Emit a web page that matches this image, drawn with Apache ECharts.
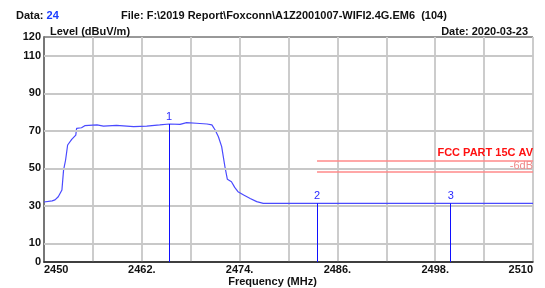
<!DOCTYPE html>
<html>
<head>
<meta charset="utf-8">
<script src="https://cdn.jsdelivr.net/npm/echarts@6/dist/echarts.min.js"></script>
<style>
html,body{margin:0;padding:0;background:#fff;}
#c{width:545px;height:288px;}
</style>
</head>
<body>
<div id="c"></div>
<script>
// Trace (frequency MHz / level dBuV/m)
var freqs = [2450, 2451.0, 2451.35, 2451.75, 2452.2, 2452.4, 2452.65, 2452.9, 2453.4, 2453.9, 2454.0, 2454.6, 2455.0, 2456.5, 2457.3, 2458.9, 2461.0, 2462.6, 2464.2, 2465.4, 2466.7, 2467.5, 2468.7, 2470.0, 2470.6, 2471.0, 2471.4, 2471.8, 2472.2, 2472.5, 2473.0, 2473.4, 2473.8, 2474.5, 2475.3, 2476.1, 2476.9, 2480, 2490, 2500, 2510];
var levels = [32.0, 32.6, 33.1, 34.8, 38.4, 49.0, 54.4, 62.4, 65.4, 67.7, 71.3, 71.6, 72.7, 73.1, 72.5, 72.9, 72.2, 72.5, 73.1, 73.6, 73.4, 74.3, 74.0, 73.6, 73.1, 70.4, 66.8, 61.5, 50.8, 44.1, 42.8, 39.8, 37.5, 35.7, 33.9, 32.2, 31.3, 31.3, 31.3, 31.3, 31.3];

// Markers
var markerNames = ['1', '2', '3'];
var markerFreqs = [2465.35, 2483.5, 2499.9];
var markerLevels = [73.6, 31.3, 31.3];

// Limit lines
var limitNames = ['FCC PART 15C AV', '-6dB'];
var limitValues = [54, 48];
var limitStart = 2483.5;

// Axes ticks
var xTickValues = [2450, 2462, 2474, 2486, 2498, 2510];
var xTickLabels = ['2450', '2462.', '2474.', '2486.', '2498.', '2510'];
var yTickValues = [0, 10, 30, 50, 70, 90, 110, 120];
var yGridValues = [10, 30, 50, 70, 90, 110];

var FONT = 'Arial, "Liberation Sans", sans-serif';
var traceData = freqs.map(function (f, i) { return [f, levels[i]]; });

var markerLines = markerFreqs.map(function (f, i) {
  return [{ coord: [f, 0], symbol: 'none', name: markerNames[i] },
          { coord: [f, markerLevels[i]], symbol: 'none' }];
});

var gridLines = yGridValues.map(function (v) {
  return [{ coord: [2450, v] }, { coord: [2510, v] }];
});

var chart = echarts.init(document.getElementById('c'), null, { renderer: 'canvas' });
chart.setOption({
  animation: false,
  backgroundColor: '#fff',
  textStyle: { fontFamily: FONT },
  title: [
    { text: 'Data: {b|24}', left: 11, top: 5,
      textStyle: { fontSize: 11, fontWeight: 'bold', color: '#111', fontFamily: FONT,
        rich: { b: { fontSize: 11, fontWeight: 'bold', color: '#1a3cff', fontFamily: FONT } } } },
    { text: 'File: F:\\2019 Report\\Foxconn\\A1Z2001007-WIFI2.4G.EM6  (104)', left: 116, top: 5,
      textStyle: { fontSize: 11, fontWeight: 'bold', color: '#111', fontFamily: FONT } },
    { text: 'Level (dBuV/m)', left: 45, top: 21,
      textStyle: { fontSize: 11, fontWeight: 'bold', color: '#111', fontFamily: FONT } },
    { text: 'Date: 2020-03-23', right: 12, top: 21,
      textStyle: { fontSize: 11, fontWeight: 'bold', color: '#111', fontFamily: FONT } },
    { text: 'Frequency (MHz)', left: 'center', top: 276, padding: 0,
      textStyle: { fontSize: 11, fontWeight: 'bold', color: '#111', fontFamily: FONT } }
  ],
  grid: { left: 44, right: 12, top: 37, bottom: 26, show: true, borderColor: '#333', borderWidth: 1, containLabel: false },
  xAxis: {
    type: 'value', min: 2450, max: 2510, interval: 6,
    axisLine: { show: true, lineStyle: { color: '#222', width: 1.5 } },
    axisTick: { show: false },
    splitLine: { show: true, lineStyle: { color: '#cccccc', width: 2 } },
    axisLabel: {
      customValues: xTickValues,
      formatter: function (v) { var i = xTickValues.indexOf(v); return i >= 0 ? xTickLabels[i] : ''; },
      alignMinLabel: 'left', alignMaxLabel: 'right',
      fontSize: 11, fontWeight: 'bold', color: '#111', margin: 2, fontFamily: FONT
    }
  },
  yAxis: {
    type: 'value', min: 0, max: 120, interval: 10,
    axisLine: { show: true, lineStyle: { color: '#777', width: 2 } },
    axisTick: { show: false },
    splitLine: { show: false },
    axisLabel: {
      customValues: yTickValues,
      fontSize: 11, fontWeight: 'bold', color: '#111', margin: 3, fontFamily: FONT
    }
  },
  series: [
    {
      type: 'line', data: [], silent: true,
      markLine: {
        silent: true, symbol: 'none', animation: false,
        lineStyle: { color: '#c8c8c8', width: 2, type: 'solid' },
        label: { show: false },
        data: gridLines
      }
    },
    {
      type: 'line', data: [], silent: true,
      markLine: {
        silent: true, symbol: 'none', animation: false,
        lineStyle: { color: '#ff8a8a', width: 1.5, type: 'solid' },
        label: {
          show: true, position: 'insideEndTop', distance: [0, 2],
          formatter: function (p) { return p.name; },
          fontFamily: FONT
        },
        data: [
          [{ coord: [limitStart, limitValues[0]], name: limitNames[0],
             label: { color: '#ff1010', fontSize: 11, fontWeight: 'bold' } },
           { coord: [2510, limitValues[0]] }],
          [{ coord: [limitStart, limitValues[1]], name: limitNames[1],
             label: { color: '#f08a8a', fontSize: 11, fontWeight: 'normal', distance: [0, 1] } },
           { coord: [2510, limitValues[1]] }]
        ]
      }
    },
    {
      type: 'line', data: traceData, showSymbol: false, symbol: 'none',
      lineStyle: { color: '#4a4aff', width: 1.2 },
      markLine: {
        silent: true, symbol: 'none', animation: false,
        lineStyle: { color: '#1010ff', width: 1, type: 'solid' },
        label: {
          show: true, position: 'end', distance: 2,
          formatter: function (p) { return p.name; },
          color: '#2a2aff', fontSize: 11, fontFamily: FONT
        },
        data: markerLines
      }
    }
  ]
});
</script>
</body>
</html>
